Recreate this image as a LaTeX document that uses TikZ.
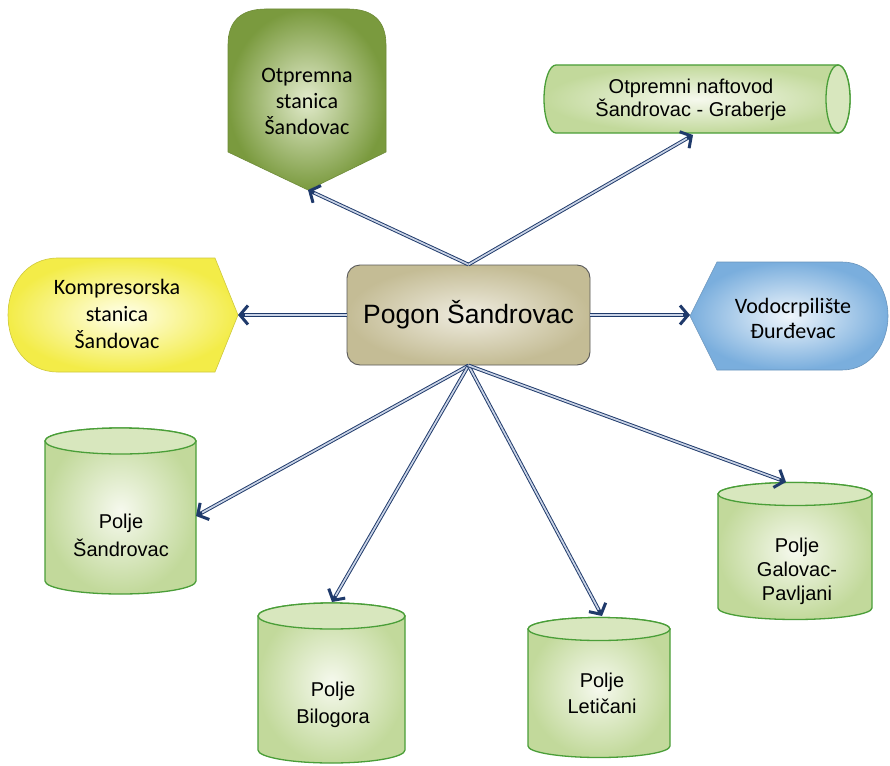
\documentclass[tikz,border=0pt]{standalone}
\usepackage{fontspec}
\setmainfont{Liberation Sans}
\newfontfamily\calfont{Carlito}
\usetikzlibrary{arrows.meta}
\definecolor{arrnavy}{HTML}{1F3A6B}
\definecolor{connin}{HTML}{C9D3E6}
\definecolor{otin}{HTML}{E2EBCC}
\definecolor{otout}{HTML}{7A9A3E}
\definecolor{cylin}{HTML}{F6F9EE}
\definecolor{cylout}{HTML}{C2D99B}
\definecolor{cyltop}{HTML}{D8E7BE}
\definecolor{cylline}{HTML}{4A9E38}
\definecolor{yelin}{HTML}{FFFFEA}
\definecolor{yelout}{HTML}{F3EC48}
\definecolor{bluin}{HTML}{EFF6FC}
\definecolor{bluout}{HTML}{7AAEDD}
\definecolor{tanin}{HTML}{EFECE0}
\definecolor{tanout}{HTML}{C4BC95}
\newcommand\vcyl[5]{%
  \shade[cylbody] ({#1-#2},#3) -- ({#1-#2},#5)
     arc[start angle=180,end angle=360,x radius=#2pt,y radius=#4pt]
     -- ({#1+#2},#3)
     arc[start angle=0,end angle=180,x radius=#2pt,y radius=#4pt] -- cycle;
  \draw[cylline, line width=1.3pt, fill=cyltop] (#1,#3) ellipse[x radius=#2pt, y radius=#4pt];
}
\begin{document}
\begin{tikzpicture}[x=1pt,y=-1pt,
  cylbody/.style={inner color=cylin, outer color=cylout, draw=cylline, line width=1.3pt},
  cyltext/.style={align=center, font=\fontsize{20}{28}\selectfont, inner sep=0pt},
  caltext/.style={align=center, font=\calfont\fontsize{22}{26}\selectfont, inner sep=0pt},
  pogonbox/.style={draw=black!65, line width=0.9pt, rounded corners=13pt, inner color=tanin, outer color=tanout,
     minimum width=243pt, minimum height=100pt, font=\fontsize{26.5}{30}\selectfont},
  conn/.style={draw=arrnavy, line width=3.6pt, -{Straight Barb[length=8pt,width=19pt,line width=3pt]},
     postaction={draw=connin, line width=1.7pt, arrows=-, shorten >=7pt}}
]
\useasboundingbox (0,0) rectangle (890,765);
\fill[white] (0,0) rectangle (890,765);

% Otpremna stanica
\shade[inner color=otin, outer color=otout, draw=otout!90!black, line width=0.6pt]
  (228,152) -- (228,45) .. controls (228,20) and (242,9) .. (266,9) -- (348,9)
  .. controls (372,9) and (386,20) .. (386,45) -- (386,152) -- (308,190) -- cycle;
\node[caltext] (tOtp) at (307,101) {Otpremna\\stanica\\Šandovac};
\coordinate (otp) at (308,190);

% Otpremni naftovod
\shade[cylbody] (556,65) -- (838,65) arc[start angle=90,end angle=-90,x radius=12pt,y radius=34pt]
  -- (556,133) arc[start angle=270,end angle=90,x radius=12pt,y radius=34pt] -- cycle;
\draw[cylline, line width=1.3pt, fill=cyltop] (838,99) ellipse[x radius=12pt, y radius=34pt];
\node[align=center, font=\fontsize{20}{21}\selectfont, inner sep=0pt] (tNaf) at (691,100)
  {Otpremni naftovod\\Šandrovac - Graberje};
\coordinate (naf) at (693,135);

% Kompresorska stanica
\shade[inner color=yelin, outer color=yelout, draw=yelout!85!black, line width=0.6pt]
  (215,258) -- (58,258) .. controls (26,258) and (8,285) .. (8,315)
  .. controls (8,345) and (26,372) .. (58,372) -- (215,372) -- (238,315) -- cycle;
\node[caltext, font=\calfont\fontsize{22}{27}\selectfont] (tKom) at (117,314) {Kompresorska\\stanica\\Šandovac};
\coordinate (kom) at (238,315);

% Vodocrpiliste
\shade[inner color=bluin, outer color=bluout, draw=bluout!85!black, line width=0.6pt]
  (717,262) -- (842,262) .. controls (872,262) and (888,290) .. (888,316)
  .. controls (888,342) and (872,370) .. (842,370) -- (717,370) -- (690,316) -- cycle;
\node[caltext, font=\calfont\fontsize{22}{25}\selectfont] (tVod) at (793,318) {Vodocrpilište\\Đurđevac};
\coordinate (vod) at (690,315);

% Center
\node[pogonbox] (pogon) at (468.5,315) {Pogon Šandrovac};

% Cylinders
\vcyl{120.5}{75.5}{441}{13}{581}
\node[cyltext] (tSan) at (121,535) {Polje\\Šandrovac};
\coordinate (san) at (196,516);

\vcyl{331.5}{73.5}{616}{13}{750}
\node[cyltext, font=\fontsize{20}{27}\selectfont] (tBil) at (333,705) {Polje\\Bilogora};
\coordinate (bil) at (332,602);

\vcyl{599}{71}{629}{11.5}{746}
\node[cyltext, font=\fontsize{20}{26}\selectfont] (tLet) at (602,693) {Polje\\Letičani};
\coordinate (let) at (602,616);

\vcyl{795}{77}{494}{11.5}{608}
\node[cyltext, font=\fontsize{20}{24}\selectfont] (tGal) at (797,571) {Polje\\Galovac-\\Pavljani};
\coordinate (gal) at (786,482);

% Connectors
\draw[conn] (pogon.north) -- (otp);
\draw[conn] (pogon.north) -- (naf);
\draw[conn] (pogon.west) -- (kom);
\draw[conn] (pogon.east) -- (vod);
\draw[conn] (pogon.south) -- (san);
\draw[conn] (pogon.south) -- (bil);
\draw[conn] (pogon.south) -- (let);
\draw[conn] (pogon.south) -- (gal);
\end{tikzpicture}
\end{document}
